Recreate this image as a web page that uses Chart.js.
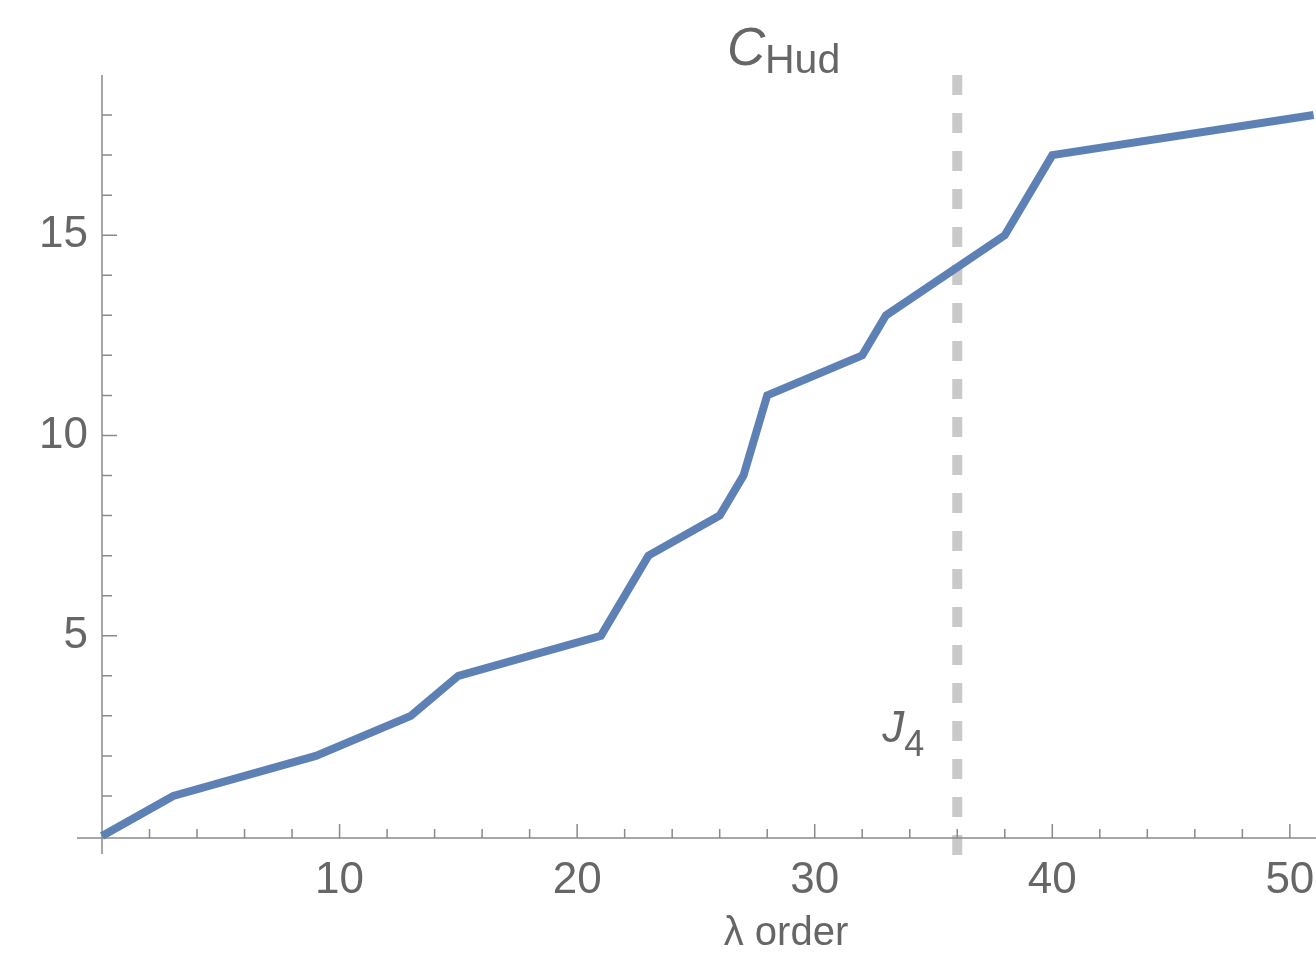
<!DOCTYPE html>
<html>
<head>
<meta charset="utf-8">
<script src="https://cdn.jsdelivr.net/npm/chart.js@4"></script>
<style>
html,body{margin:0;padding:0;background:#fff;}
#wrap{width:1316px;height:955px;}
</style>
</head>
<body>
<div id="wrap"><canvas id="c" width="1316" height="955"></canvas></div>
<script>
// Data
const lambdaOrder = [0, 3, 9, 13, 15, 21, 23, 26, 27, 28, 32, 33, 38, 40, 51];
const cHud        = [0, 1, 2, 3, 4, 5, 7, 8, 9, 11, 12, 13, 15, 17, 18];
const xTickLabels = [10, 20, 30, 40, 50];
const yTickLabels = [5, 10, 15];
const xMinorTicks = [2,4,6,8,12,14,16,18,22,24,26,28,32,34,36,38,42,44,46,48];
const yMinorTicks = [1,2,3,4,6,7,8,9,11,12,13,14,16,17,18];
const markerX = 36;           // J4 reference line
const xRange = [0, 51.1];
const yRange = [-0.05, 19];

const FONT = "'Liberation Sans', Arial, Helvetica, sans-serif";
const AXIS = '#8a8a8a';
const TEXT = '#666666';

const overlay = {
  id: 'overlay',
  beforeDatasetsDraw(chart) {
    const {ctx, chartArea, scales} = chart;
    const xs = scales.x, ys = scales.y;
    const x0 = xs.getPixelForValue(0), y0 = ys.getPixelForValue(0) + 2;
    ctx.save();
    // dashed marker line
    const mx = xs.getPixelForValue(markerX);
    ctx.strokeStyle = '#c9c9c9';
    ctx.lineWidth = 10;
    ctx.setLineDash([20, 18]);
    ctx.beginPath();
    ctx.moveTo(mx, chartArea.top);
    ctx.lineTo(mx, y0 + 17);
    ctx.stroke();
    ctx.setLineDash([]);
    // axes
    ctx.strokeStyle = AXIS;
    ctx.lineWidth = 1.5;
    ctx.beginPath();
    ctx.moveTo(x0 - 25, y0); ctx.lineTo(chartArea.right, y0);
    ctx.moveTo(x0, chartArea.top); ctx.lineTo(x0, y0 + 16);
    ctx.stroke();
    // ticks (inside)
    ctx.beginPath();
    xTickLabels.forEach(v => { const p = xs.getPixelForValue(v); ctx.moveTo(p, y0); ctx.lineTo(p, y0 - 14); });
    xMinorTicks.forEach(v => { const p = xs.getPixelForValue(v); ctx.moveTo(p, y0); ctx.lineTo(p, y0 - 9); });
    yTickLabels.forEach(v => { const p = ys.getPixelForValue(v); ctx.moveTo(x0, p); ctx.lineTo(x0 + 15, p); });
    yMinorTicks.forEach(v => { const p = ys.getPixelForValue(v); ctx.moveTo(x0, p); ctx.lineTo(x0 + 10, p); });
    ctx.stroke();
    ctx.restore();
  },
  afterDraw(chart) {
    const {ctx, scales} = chart;
    const xs = scales.x;
    ctx.save();
    ctx.fillStyle = TEXT;
    ctx.textBaseline = 'alphabetic';
    // title C_Hud
    ctx.font = "italic 53px " + FONT;
    ctx.fillText('C', 727, 65);
    ctx.font = "41px " + FONT;
    ctx.fillText('Hud', 765, 73);
    // x-axis label
    ctx.font = "40px " + FONT;
    ctx.textAlign = 'center';
    ctx.fillText('λ order', 786, 945);
    ctx.textAlign = 'left';
    // J4 label
    const mx = xs.getPixelForValue(markerX);
    ctx.font = "italic 44px " + FONT;
    ctx.fillText('J', mx - 75, 742);
    ctx.font = "36px " + FONT;
    ctx.fillText('4', mx - 53, 756);
    ctx.restore();
  }
};

new Chart(document.getElementById('c'), {
  type: 'line',
  data: {
    datasets: [{
      data: lambdaOrder.map((x, i) => ({x, y: cHud[i]})),
      borderColor: '#5E81B5',
      borderWidth: 8,
      pointRadius: 0,
      tension: 0,
      fill: false,
      clip: false
    }]
  },
  options: {
    responsive: false,
    animation: false,
    devicePixelRatio: 1,
    layout: {padding: {top: 75, right: 0, left: 0, bottom: 0}},
    plugins: {legend: {display: false}, tooltip: {enabled: false}, title: {display: false}},
    scales: {
      x: {
        type: 'linear', min: xRange[0], max: xRange[1],
        grid: {display: false, drawTicks: false},
        border: {display: false},
        afterBuildTicks: s => { s.ticks = xTickLabels.map(v => ({value: v})); },
        afterFit: s => { s.height = 117; s.paddingRight = 0; s.paddingLeft = 0; },
        ticks: {font: {family: FONT, size: 44}, color: TEXT, padding: 16, maxRotation: 0, autoSkip: false}
      },
      y: {
        type: 'linear', min: yRange[0], max: yRange[1],
        grid: {display: false, drawTicks: false},
        border: {display: false},
        afterBuildTicks: s => { s.ticks = yTickLabels.map(v => ({value: v})); },
        afterFit: s => { s.width = 102; s.paddingTop = 0; s.paddingBottom = 0; },
        ticks: {font: {family: FONT, size: 44}, color: TEXT, padding: 14}
      }
    }
  },
  plugins: [overlay]
});
</script>
</body>
</html>
